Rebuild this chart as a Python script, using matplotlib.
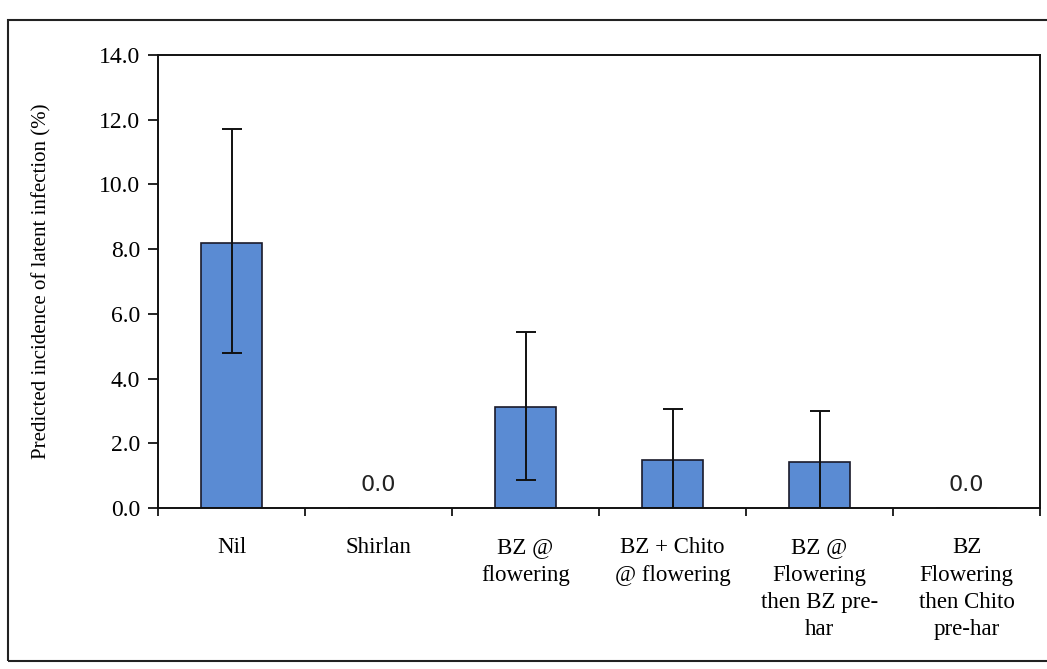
import matplotlib
matplotlib.use("Agg")
import matplotlib.pyplot as plt
from matplotlib.patches import Rectangle
import numpy as np

categories = ["Nil", "Shirlan", "BZ @\nflowering", "BZ + Chito\n@ flowering",
              "BZ @\nFlowering\nthen BZ pre-\nhar", "BZ\nFlowering\nthen Chito\npre-har"]
values = [8.2, 0.0, 3.12, 1.48, 1.42, 0.0]
err_upper = [11.72, None, 5.44, 3.06, 3.0, None]
err_lower = [4.79, None, 0.87, -0.1, -0.15, None]
zero_labels = ["0.0", "0.0"]
yticks = [0.0, 2.0, 4.0, 6.0, 8.0, 10.0, 12.0, 14.0]

W, H = 1047, 669
fig = plt.figure(figsize=(W / 100, H / 100), dpi=100)
left, right, top, bottom = 158, 1040, 55, 508
ax = fig.add_axes([left / W, 1 - bottom / H, (right - left) / W, (bottom - top) / H])

x = np.arange(len(categories))
ax.bar(x, values, width=0.41, color="#5a8bd3", edgecolor="#1a1a2a", linewidth=1.2, zorder=2)

for i, (v, hi, lo) in enumerate(zip(values, err_upper, err_lower)):
    if hi is not None:
        ax.errorbar(i, v, yerr=[[v - lo], [hi - v]], fmt="none", ecolor="#111111",
                    elinewidth=1.4, capsize=7, capthick=1.4, zorder=3)

zi = [i for i, v in enumerate(values) if v == 0.0]
for i, lab in zip(zi, zero_labels):
    ax.text(i, 0.4, lab, ha="center", va="bottom", fontsize=16,
            family="DejaVu Sans", color="#222222")

ax.set_xlim(-0.5, len(categories) - 0.5)
ax.set_ylim(0, 14)
ax.set_yticks(yticks)
ax.set_yticklabels([f"{t:.1f}" for t in yticks], family="Liberation Serif", fontsize=17)
ax.set_xticks(x)
ax.set_xticklabels(categories, family="Liberation Serif", fontsize=16.5, linespacing=1.4)
ax.tick_params(axis="x", length=0, pad=21)
ax.set_xticks(np.arange(len(categories) + 1) - 0.5, minor=True)
ax.tick_params(axis="x", which="minor", length=6, direction="out", width=1.2)
ax.tick_params(axis="y", length=7, direction="out", width=1.2, pad=6)
for s in ax.spines.values():
    s.set_linewidth(1.4)
    s.set_color("#111111")

ax.set_ylabel("Predicted incidence of latent infection (%)", family="Liberation Serif",
              fontsize=15, labelpad=34)

fig.patches.append(Rectangle((8 / W, 1 - 661 / H), 1.2, (661 - 20) / H,
                             transform=fig.transFigure, fill=False,
                             edgecolor="#222222", linewidth=1.5))

fig.savefig("out.png", dpi=100)
